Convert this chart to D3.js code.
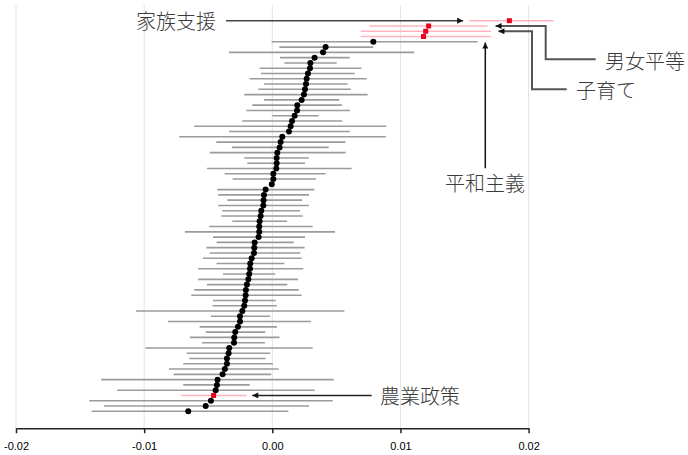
<!DOCTYPE html>
<html><head><meta charset="utf-8">
<script src="https://cdn.jsdelivr.net/npm/d3@7"></script>
<style>body{margin:0;background:#fff}svg{display:block}</style>
</head><body>
<svg id="c" width="688" height="455"></svg>
<script>
// Estimates (point, lower, upper) in 1/1000 units, top row to bottom row
const rows = d3.range(1, 76).map(String);
const points = [18.50,12.20,11.97,11.80,7.88,4.16,3.96,3.30,2.97,2.94,2.78,2.68,2.63,2.55,2.47,2.29,1.95,1.93,1.74,1.54,1.43,1.30,0.78,0.65,0.57,0.39,0.34,0.34,0.31,0.08,0.08,-0.04,-0.52,-0.65,-0.68,-0.70,-0.86,-0.91,-0.99,-1.02,-1.02,-1.07,-1.38,-1.41,-1.43,-1.61,-1.72,-1.74,-1.80,-1.87,-1.98,-2.06,-2.08,-2.13,-2.19,-2.34,-2.52,-2.52,-2.68,-2.89,-2.97,-2.99,-3.36,-3.41,-3.54,-3.54,-3.70,-3.88,-4.27,-4.32,-4.42,-4.58,-4.79,-5.20,-6.56];
const lower = [15.36,7.57,6.90,6.90,-0.05,0.55,-3.38,0.60,0.94,-0.99,-0.88,-1.77,-0.65,-1.09,-2.19,-0.65,-1.56,-2.03,0.00,-2.34,-6.09,-3.38,-7.26,-4.37,-3.15,-4.89,-2.19,-1.95,-5.10,-3.72,-3.10,null,-4.29,-4.22,-3.51,-4.22,-3.90,-3.98,-3.12,-4.92,-6.82,-4.63,-4.35,-5.15,-4.89,-5.41,-4.35,-5.78,-3.85,-5.78,-5.10,-6.09,-6.32,-4.63,-4.66,-10.64,-4.79,-8.14,-5.67,-5.18,-6.43,-5.49,-9.91,-6.69,-6.48,-6.95,-8.07,-7.70,-13.35,-6.95,-12.10,-7.13,-14.29,-13.14,-14.10];
const upper = [21.94,16.80,17.06,17.06,16.02,7.88,11.09,6.04,5.02,6.95,6.43,7.36,5.88,6.12,7.44,5.23,5.44,6.06,3.62,5.46,8.90,6.04,8.85,5.70,4.40,5.72,2.84,2.55,6.19,4.16,3.41,null,3.28,2.86,2.32,2.86,2.16,2.37,1.15,3.15,4.89,2.55,1.67,2.52,2.19,2.29,0.94,2.42,0.23,2.00,1.17,2.06,2.29,0.26,0.36,5.62,-0.18,3.02,0.36,-0.55,0.57,-0.57,3.15,-0.16,-0.52,0.05,0.49,-0.08,4.79,-1.77,3.30,-2.00,4.71,2.86,1.25];
const highlightRows = ["1","2","3","4","72"];
const labelRows = ["1","2","3","4","72"];
const labelTexts = ["家族支援","男女平等","子育て","平和主義","農業政策"];
const xTicks = [-0.02,-0.01,0,0.01,0.02];
const xTickLabels = ["-0.02","-0.01","0.00","0.01","0.02"];

const data = rows.map((r,i)=>({row:r, pt:points[i]/1000,
  lo: lower[i]==null?null:lower[i]/1000, hi: upper[i]==null?null:upper[i]/1000,
  hl: highlightRows.includes(r)}));

const svg = d3.select("#c");
const x = d3.scaleLinear().domain([-0.02,0.02]).range([16,528.6]);
const y = d3.scalePoint().domain(rows).range([20.7,411.3]);
const axisY = 428.3;

// grid
svg.append("g").selectAll("line").data(xTicks).join("line")
  .attr("x1",d=>x(d)).attr("x2",d=>x(d)).attr("y1",5).attr("y2",axisY)
  .attr("stroke","#e3e3e3").attr("stroke-width",1);

// axis
const ax = svg.append("g").attr("transform",`translate(0,${axisY})`)
  .call(d3.axisBottom(x).tickValues(xTicks).tickFormat((d,i)=>xTickLabels[i]).tickSize(5).tickPadding(9).tickSizeOuter(0));
ax.select(".domain").attr("stroke","#222").attr("stroke-width",1.5);
ax.selectAll(".tick line").attr("stroke","#222").attr("stroke-width",1.5);
ax.selectAll("text").attr("font-family","'Liberation Sans',Arial,sans-serif").attr("font-size",11).attr("fill","#000");

// intervals
svg.append("g").selectAll("line").data(data.filter(d=>d.lo!=null)).join("line")
  .attr("x1",d=>x(d.lo)).attr("x2",d=>x(d.hi)).attr("y1",d=>y(d.row)).attr("y2",d=>y(d.row))
  .attr("stroke",d=>d.hl?"#ffb3bd":"#9b9b9b").attr("stroke-width",1.6);

// points
svg.append("g").selectAll("circle").data(data.filter(d=>!d.hl)).join("circle")
  .attr("cx",d=>x(d.pt)).attr("cy",d=>y(d.row)).attr("r",3).attr("fill","#000");
svg.append("g").selectAll("rect").data(data.filter(d=>d.hl)).join("rect")
  .attr("x",d=>x(d.pt)-2.5).attr("y",d=>y(d.row)-2.5).attr("width",5).attr("height",5).attr("fill","#e8001c");

// annotations
svg.append("defs").append("marker").attr("id","ah").attr("viewBox","0 0 10 10")
  .attr("refX",10).attr("refY",5).attr("markerWidth",8).attr("markerHeight",6)
  .attr("markerUnits","userSpaceOnUse").attr("orient","auto")
  .append("path").attr("d","M0,0L10,5L0,10Z").attr("fill","#111");
const byRow = Object.fromEntries(data.map(d=>[d.row,d]));
const font = "'Noto Sans CJK JP','Noto Sans CJK SC',sans-serif";
const ann = svg.append("g");
function txt(t,xx,yy,anchor){
  ann.append("text").attr("x",xx).attr("y",yy).attr("text-anchor",anchor)
   .attr("dominant-baseline","central").attr("font-family",font).attr("font-size",20)
   .attr("font-weight",300).attr("fill","#3c3c3c").text(t);
}
function arrow(pts,col,w){
  ann.append("path").attr("d",d3.line()(pts)).attr("fill","none")
   .attr("stroke",col).attr("stroke-width",w).attr("marker-end","url(#ah)");
}
// 家族支援
{ const d=byRow[labelRows[0]], yy=y(d.row);
  arrow([[226,yy],[x(d.lo)-6,yy]],"#444",1.5); txt(labelTexts[0],216,yy,"end"); }
// 男女平等
{ const d=byRow[labelRows[1]], yy=y(d.row);
  arrow([[595.7,59.3],[545.7,59.3],[545.7,yy],[x(d.hi)+8,yy]],"#555",2); txt(labelTexts[1],605,60,"start"); }
// 子育て
{ const d=byRow[labelRows[2]], yy=y(d.row);
  arrow([[566.7,89.3],[532,89.3],[532,yy],[x(d.hi)+7.5,yy]],"#555",2); txt(labelTexts[2],576,89.5,"start"); }
// 平和主義
{ const d=byRow[labelRows[3]], yy=y(d.row);
  arrow([[485.3,168.3],[485.3,yy+6]],"#111",1.5); txt(labelTexts[3],485,182,"middle"); }
// 農業政策
{ const d=byRow[labelRows[4]], yy=y(d.row);
  arrow([[371.7,yy],[x(d.hi)+5.6,yy]],"#222",1.5); txt(labelTexts[4],380,yy,"start"); }
</script>
</body></html>
